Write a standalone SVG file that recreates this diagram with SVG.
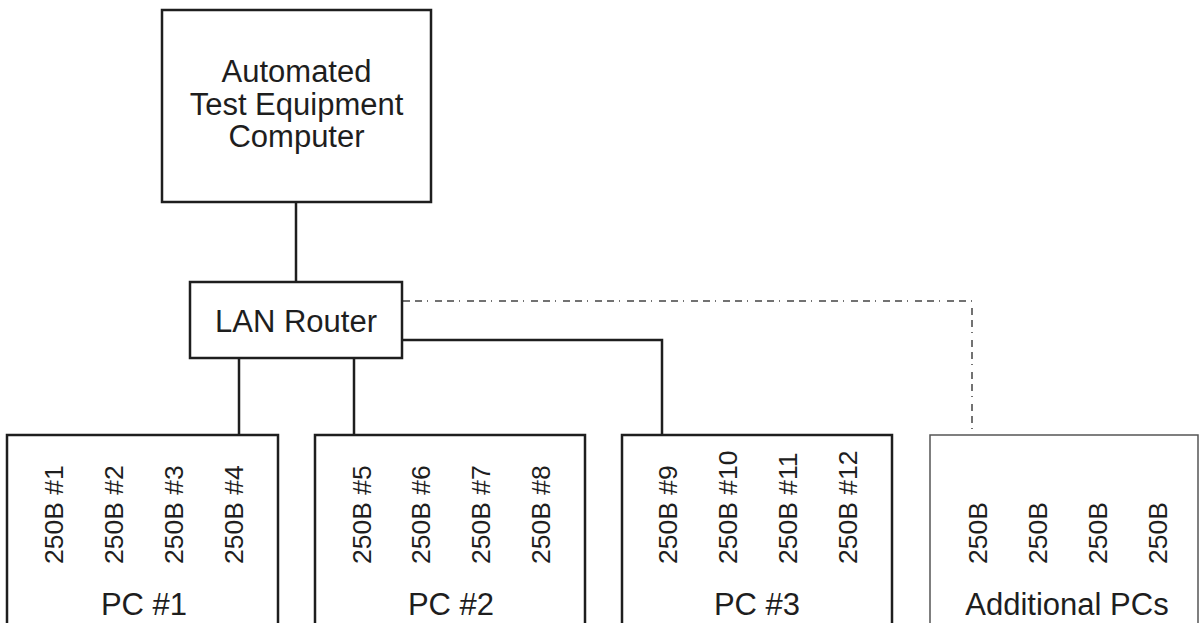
<svg xmlns="http://www.w3.org/2000/svg" width="1199" height="623" viewBox="0 0 1199 623">
<style>
.box{fill:#fff;stroke:#1e1e1e;stroke-width:2.5}
.box2{fill:#fff;stroke:#555;stroke-width:1.5}
.t{font-family:"Liberation Sans",Arial,sans-serif;font-size:31px;fill:#1e1e1e;text-anchor:middle}
.v{font-family:"Liberation Sans",Arial,sans-serif;font-size:26.5px;fill:#1e1e1e;text-anchor:start}
.c{fill:none;stroke:#1e1e1e;stroke-width:2.5}
.d{fill:none;stroke:#444;stroke-width:1.5;stroke-dasharray:7 5 7 5 1 7}
</style>
<rect width="1199" height="623" fill="#fff"/>
<g id="connectors">
<path class="c" d="M296 202V282"/>
<path class="c" d="M239 358V435"/>
<path class="c" d="M354 358V435"/>
<path class="c" d="M402 340H662V435"/>
<path class="d" d="M403 301H972V435"/>
</g>
<g id="ate">
<rect class="box" x="162" y="10" width="269" height="192"/>
<text class="t" x="296.5" y="82">Automated</text>
<text class="t" x="296.5" y="115">Test Equipment</text>
<text class="t" x="296.5" y="147">Computer</text>
</g>
<g id="router">
<rect class="box" x="190" y="282" width="212" height="76"/>
<text class="t" x="296" y="332">LAN Router</text>
</g>
<g id="pc1">
<rect class="box" x="7" y="435" width="271" height="200"/>
<text class="v" transform="translate(63,564) rotate(-90)">250B #1</text>
<text class="v" transform="translate(123,564) rotate(-90)">250B #2</text>
<text class="v" transform="translate(183,564) rotate(-90)">250B #3</text>
<text class="v" transform="translate(243,564) rotate(-90)">250B #4</text>
<text class="t" x="144" y="615">PC #1</text>
</g>
<g id="pc2">
<rect class="box" x="315" y="435" width="270" height="200"/>
<text class="v" transform="translate(371,564) rotate(-90)">250B #5</text>
<text class="v" transform="translate(430,564) rotate(-90)">250B #6</text>
<text class="v" transform="translate(490,564) rotate(-90)">250B #7</text>
<text class="v" transform="translate(550,564) rotate(-90)">250B #8</text>
<text class="t" x="451" y="615">PC #2</text>
</g>
<g id="pc3">
<rect class="box" x="622" y="435" width="270" height="200"/>
<text class="v" transform="translate(677,564) rotate(-90)">250B #9</text>
<text class="v" transform="translate(737,564) rotate(-90)">250B #10</text>
<text class="v" transform="translate(797,564) rotate(-90)">250B #11</text>
<text class="v" transform="translate(857,564) rotate(-90)">250B #12</text>
<text class="t" x="757" y="615">PC #3</text>
</g>
<g id="additional">
<rect class="box2" x="930" y="435" width="268" height="200"/>
<text class="v" transform="translate(987,564) rotate(-90)">250B</text>
<text class="v" transform="translate(1047,564) rotate(-90)">250B</text>
<text class="v" transform="translate(1107,564) rotate(-90)">250B</text>
<text class="v" transform="translate(1167,564) rotate(-90)">250B</text>
<text class="t" x="1067" y="615">Additional PCs</text>
</g>
</svg>
